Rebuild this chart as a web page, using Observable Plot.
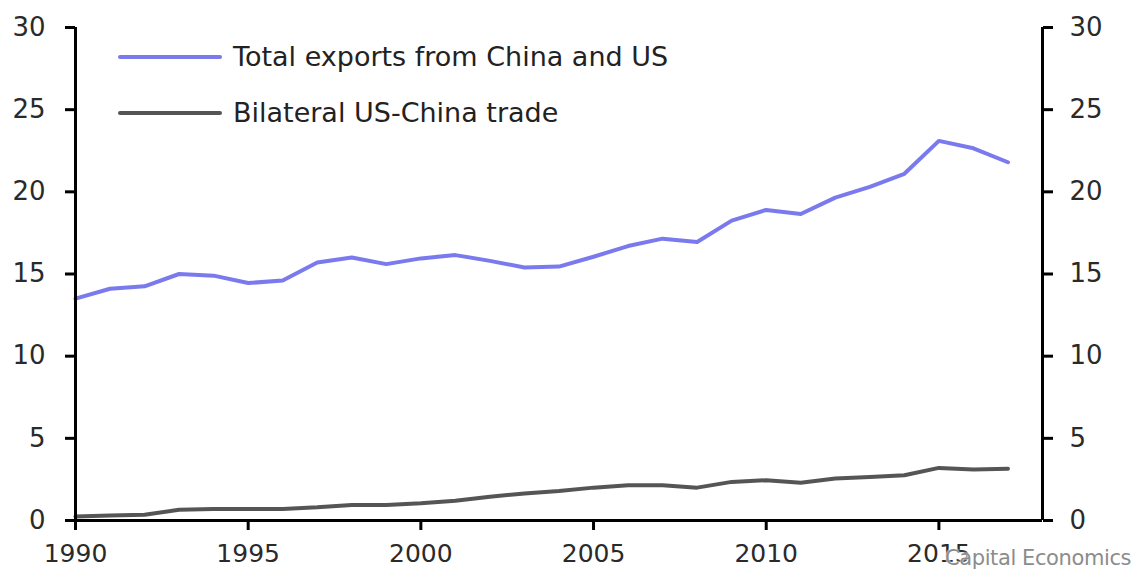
<!DOCTYPE html>
<html>
<head>
<meta charset="utf-8">
<script src="https://cdn.jsdelivr.net/npm/d3@7"></script>
<script src="https://cdn.jsdelivr.net/npm/@observablehq/plot@0.6"></script>
<style>
  html, body { margin: 0; padding: 0; background: #fff; }
  #wrap { position: relative; width: 1140px; height: 572px; font-family: "DejaVu Sans", sans-serif; }
  #wrap svg g[aria-label$="tick label"] { fill: #2a2a2a; }
  .leg { position: absolute; display: flex; align-items: center; height: 34px; line-height: 34px; font-size: 27px; color: #222; white-space: nowrap; }
  .leg .sw { width: 104px; height: 4px; margin-right: 11px; border-radius: 2px; }
  #credit { position: absolute; left: 945px; top: 546px; font-size: 21px; color: #8c8c8c; white-space: nowrap;
            text-shadow: 0 0 2px #fff, 0 0 2px #fff; letter-spacing: -0.4px; }
</style>
</head>
<body>
<div id="wrap"></div>
<script>
const years = [1990,1991,1992,1993,1994,1995,1996,1997,1998,1999,2000,2001,2002,2003,2004,
               2005,2006,2007,2008,2009,2010,2011,2012,2013,2014,2015,2016,2017];
const totalExports = [13.5,14.1,14.25,15.0,14.9,14.45,14.6,15.7,16.0,15.6,15.95,16.15,15.8,15.4,15.45,
                      16.05,16.7,17.15,16.95,18.25,18.9,18.65,19.65,20.3,21.1,23.1,22.65,21.8];
const bilateral = [0.25,0.3,0.35,0.65,0.7,0.7,0.7,0.8,0.95,0.95,1.05,1.2,1.45,1.65,1.8,
                   2.0,2.15,2.15,2.0,2.35,2.45,2.3,2.55,2.65,2.75,3.2,3.1,3.15];
const seriesNames = ["Total exports from China and US", "Bilateral US-China trade"];
const seriesColors = ["#7a7aee", "#555555"];
const xDomain = [1990, 2018];
const yDomain = [0, 30];
const xTicks = [1990, 1995, 2000, 2005, 2010, 2015];
const yTicks = [0, 5, 10, 15, 20, 25, 30];
const baseline = [0];

const rows = years.flatMap((yr, i) => [
  {year: yr, value: totalExports[i], series: seriesNames[0]},
  {year: yr, value: bilateral[i], series: seriesNames[1]}
]);

const chart = Plot.plot({
  width: 1140,
  height: 572,
  marginLeft: 75,
  marginRight: 98,
  marginTop: 27,
  marginBottom: 52,
  x: {domain: xDomain},
  y: {domain: yDomain},
  color: {domain: seriesNames, range: seriesColors},
  style: {fontFamily: "DejaVu Sans, sans-serif", fontSize: "26px", color: "#000", background: "#fff"},
  marks: [
    Plot.axisY({anchor: "left", ticks: yTicks, tickSize: 10, tickPadding: 20, strokeWidth: 3, label: null}),
    Plot.axisY({anchor: "right", ticks: yTicks, tickSize: 10, tickPadding: 17, strokeWidth: 3, label: null}),
    Plot.axisX({anchor: "bottom", ticks: xTicks, tickSize: 10, tickPadding: 14, strokeWidth: 3, fontSize: 25, tickFormat: d => String(d), label: null}),
    Plot.line(rows, {x: "year", y: "value", z: "series", stroke: "series", strokeWidth: 4, strokeLinejoin: "round", strokeLinecap: "round"}),
    Plot.ruleX(xDomain, {stroke: "#000", strokeWidth: 3}),
    Plot.ruleY(baseline, {stroke: "#000", strokeWidth: 3})
  ]
});

const wrap = document.getElementById("wrap");
wrap.appendChild(chart);

const legendTops = [40, 96];
seriesNames.forEach((name, i) => {
  const d = document.createElement("div");
  d.className = "leg";
  d.style.left = "118px";
  d.style.top = legendTops[i] + "px";
  d.innerHTML = `<span class="sw" style="background:${seriesColors[i]}"></span><span>${name}</span>`;
  wrap.appendChild(d);
});

const credit = document.createElement("div");
credit.id = "credit";
credit.textContent = "Capital Economics";
wrap.appendChild(credit);
</script>
</body>
</html>
